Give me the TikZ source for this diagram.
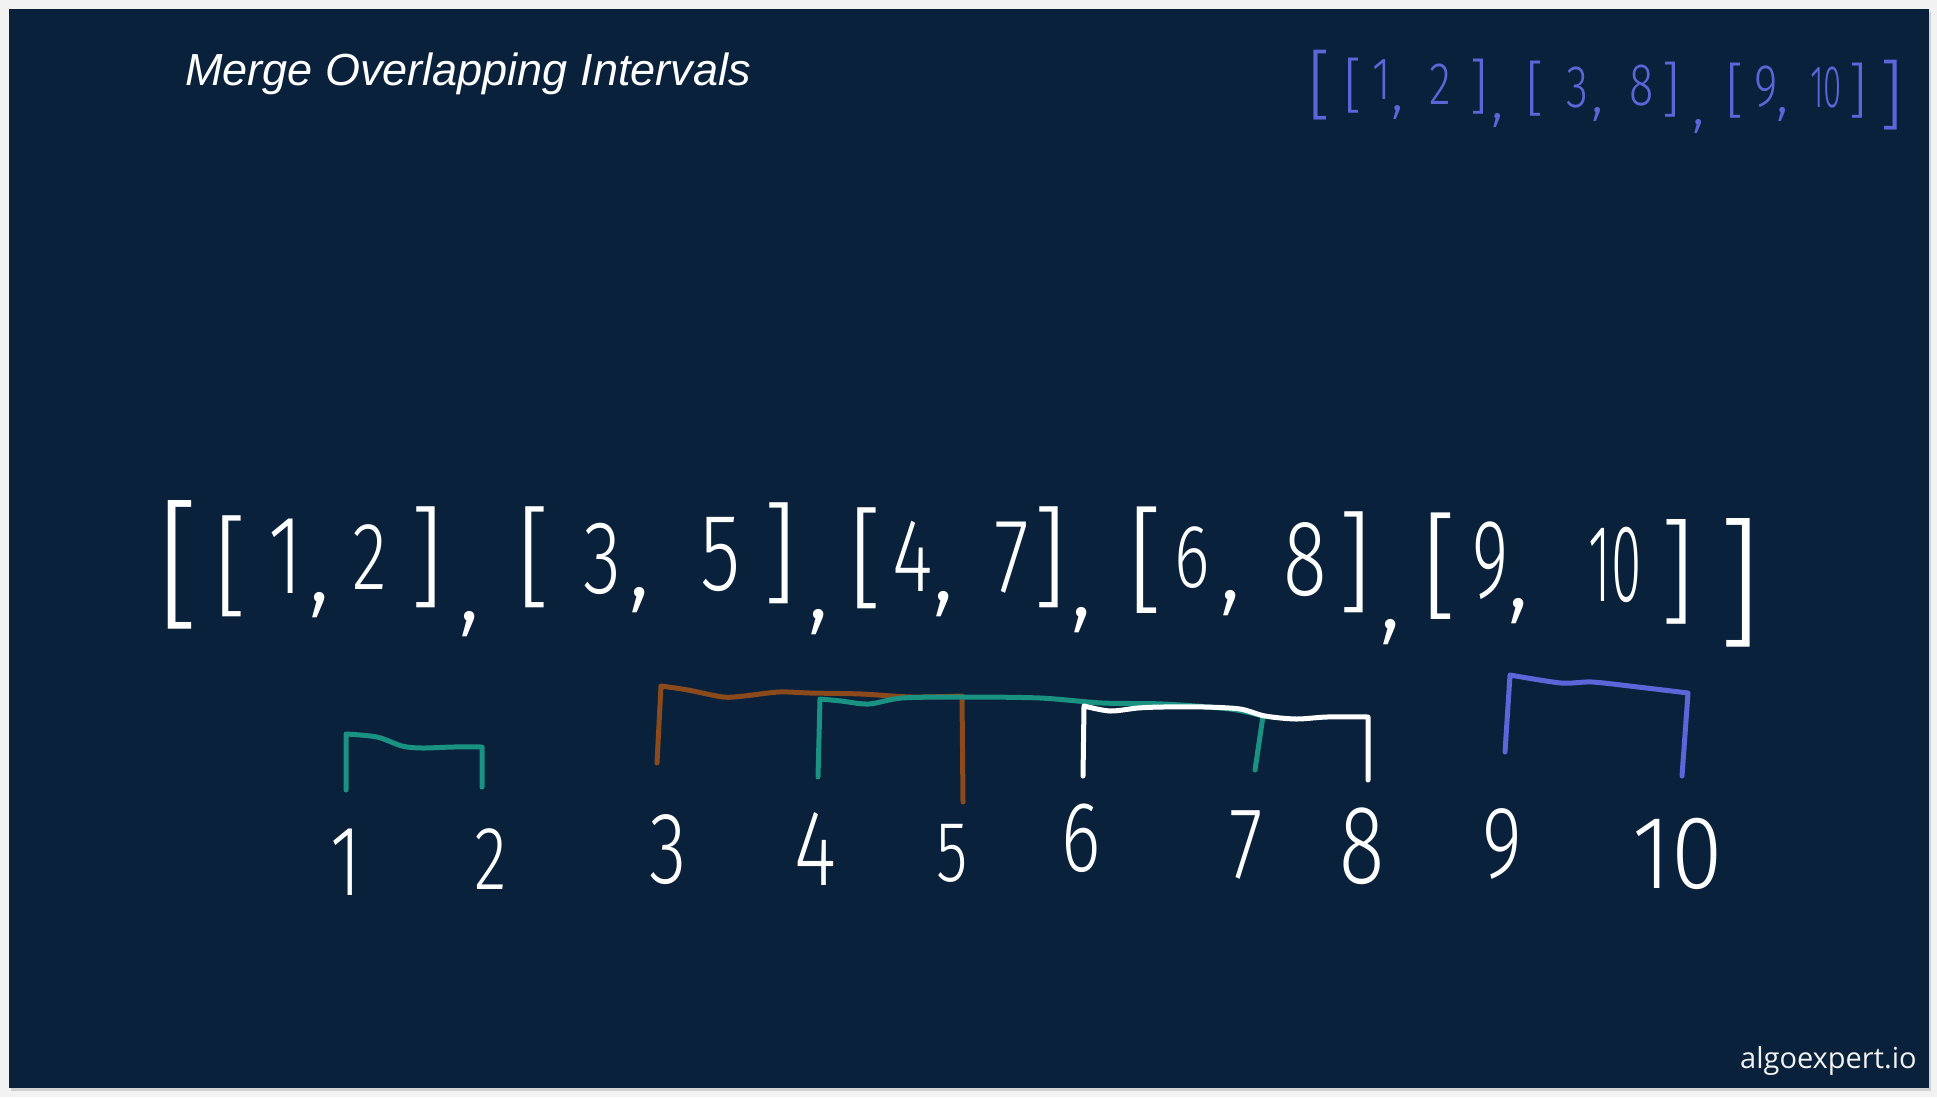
\documentclass[tikz,border=0pt]{standalone}
\usepackage{fontspec}
\usepackage{graphicx}
\setmainfont{Liberation Sans}
\newfontfamily\hand{Fira Sans Light}
\newfontfamily\logofont{Open Sans}
\newcommand\nx[1]{\scalebox{0.75}[1]{#1}}
\definecolor{navy}{HTML}{09213B}
\definecolor{pagebg}{HTML}{F2F2F2}
\definecolor{penblue}{HTML}{5D66D8}
\definecolor{penteal}{HTML}{1A9282}
\definecolor{penbrown}{HTML}{8A4A1C}
\tikzset{
  ch/.style={inner sep=0pt, anchor=center, text=white},
  hw/.style={font=\hand\fontsize{#1}{#1}\selectfont},
  bl/.style={inner sep=0pt, anchor=center, text=penblue},
  iv/.style={line width=2.5pt, line cap=round, line join=round},
}
\begin{document}
\begin{tikzpicture}[x=0.5pt,y=-0.5pt]
\useasboundingbox (0,0) rectangle (1937,1097);
\fill[pagebg] (0,0) rectangle (1937,1097);
\fill[black!18] (11,12) rectangle (1931,1091);
\fill[navy] (9,9) rectangle (1929,1088);

% title
\node[anchor=base west, inner sep=0pt, text=white, font=\itshape\fontsize{22.5}{22.5}\selectfont] (title) at (185,86) {Merge Overlapping Intervals};
\node[anchor=base east, inner sep=0pt, text=white!90!gray, font=\logofont\fontsize{14.5}{14.5}\selectfont] (logo) at (1917,1068) {algoexpert.io};

% top-right result
\node[bl, hw=38] (r1) at (1320,85) {[};
\node[bl, hw=30] (r2) at (1353,86) {[};
\node[bl, hw=30] (r3) at (1382,80) {\nx{1}};
\node[bl, hw=30] (r4) at (1398,113) {,};
\node[bl, hw=30] (r5) at (1440,84) {\nx{2}};
\node[bl, hw=30] (r6) at (1479,87) {]};
\node[bl, hw=30] (r7) at (1498,121) {,};
\node[bl, hw=30] (r8) at (1535,89) {[};
\node[bl, hw=30] (r9) at (1577,88) {\nx{3}};
\node[bl, hw=30] (r10) at (1598,115) {,};
\node[bl, hw=30] (r11) at (1642,86) {\nx{8}};
\node[bl, hw=30] (r12) at (1671,90) {]};
\node[bl, hw=30] (r13) at (1699,127) {,};
\node[bl, hw=30] (r14) at (1735,91) {[};
\node[bl, hw=30] (r15) at (1766,87) {\nx{9}};
\node[bl, hw=30] (r16) at (1783,115) {,};
\node[bl, hw=30] (r17) at (1826,88) {\scalebox{0.55}[1]{10}};
\node[bl, hw=30] (r18) at (1858,91) {]};
\node[bl, hw=38] (r19) at (1892,95) {]};

% main input row
\node[ch, hw=70] (m1) at (179,565) {[};
\node[ch, hw=55] (m2) at (231,566) {[};
\node[ch, hw=56] (m3) at (286,556) {\nx{1}};
\node[ch, hw=54] (m4) at (320,605) {,};
\node[ch, hw=48] (m5) at (370,557) {\nx{2}};
\node[ch, hw=55] (m6) at (427,557) {]};
\node[ch, hw=54] (m7) at (470,624) {,};
\node[ch, hw=55] (m8) at (534,557) {[};
\node[ch, hw=52] (m9) at (602,559) {\nx{3}};
\node[ch, hw=54] (m10) at (640,600) {,};
\node[ch, hw=55] (m11) at (721,555) {\nx{5}};
\node[ch, hw=55] (m12) at (780,553) {]};
\node[ch, hw=54] (m13) at (819,622) {,};
\node[ch, hw=55] (m14) at (866,558) {[};
\node[ch, hw=52] (m15) at (913,556) {\nx{4}};
\node[ch, hw=54] (m16) at (944,604) {,};
\node[ch, hw=53] (m17) at (1012,558) {\nx{7}};
\node[ch, hw=55] (m18) at (1050,557) {]};
\node[ch, hw=54] (m19) at (1082,620) {,};
\node[ch, hw=58] (m20) at (1146,560) {[};
\node[ch, hw=45] (m21) at (1192,558) {\nx{6}};
\node[ch, hw=54] (m22) at (1231,603) {,};
\node[ch, hw=54] (m23) at (1305,560) {\nx{8}};
\node[ch, hw=55] (m24) at (1355,562) {]};
\node[ch, hw=54] (m25) at (1391,632) {,};
\node[ch, hw=58] (m26) at (1440,566) {[};
\node[ch, hw=56] (m27) at (1490,561) {\scalebox{0.62}[1]{9}};
\node[ch, hw=54] (m28) at (1519,611) {,};
\node[ch, hw=55] (m29) at (1615,565) {\scalebox{0.5}[1]{10}};
\node[ch, hw=57] (m30) at (1678,572) {]};
\node[ch, hw=70] (m31) at (1740,583) {]};

% number line
\node[ch, hw=50] (n1) at (346,862) {\nx{1}};
\node[ch, hw=45] (n2) at (491,859) {\nx{2}};
\node[ch, hw=51] (n3) at (668,850) {\nx{3}};
\node[ch, hw=54] (n4) at (815,849) {\nx{4}};
\node[ch, hw=43] (n5) at (952,853) {\nx{5}};
\node[ch, hw=50] (n6) at (1081,838) {\nx{6}};
\node[ch, hw=51] (n7) at (1246,845) {\nx{7}};
\node[ch, hw=56] (n8) at (1362,846) {\nx{8}};
\node[ch, hw=51] (n9) at (1502,844) {\nx{9}};
\node[ch, hw=52] (n10) at (1678,854) {\scalebox{0.9}[1]{10}};

% intervals
\draw[iv, penteal] (346,790) -- (346,734)
  plot[smooth] coordinates {(346,734) (377,737) (402,746) (422,748) (453,747) (482,747)}
  -- (482,787);
\draw[iv, penbrown] (657,763) -- (661,686)
  plot[smooth] coordinates {(661,686) (688,690) (723,697) (744,696) (779,692) (810,693) (861,694) (912,697) (962,696)}
  -- (963,802);
\draw[iv, penteal] (818,777) -- (820,699)
  plot[smooth] coordinates {(820,699) (841,701) (869,704) (902,698) (963,697) (1040,698) (1102,703) (1163,704) (1230,709) (1263,716)}
  -- (1255,770);
\draw[iv, white] (1083,776) -- (1084,706)
  plot[smooth] coordinates {(1084,706) (1110,711) (1138,708) (1163,707) (1204,707) (1240,709) (1265,716) (1296,719) (1327,717) (1368,717)}
  -- (1368,780);
\draw[iv, penblue] (1505,752) -- (1510,675)
  plot[smooth] coordinates {(1510,675) (1561,683) (1592,682) (1638,687) (1688,693)}
  -- (1682,776);
\end{tikzpicture}
\end{document}
